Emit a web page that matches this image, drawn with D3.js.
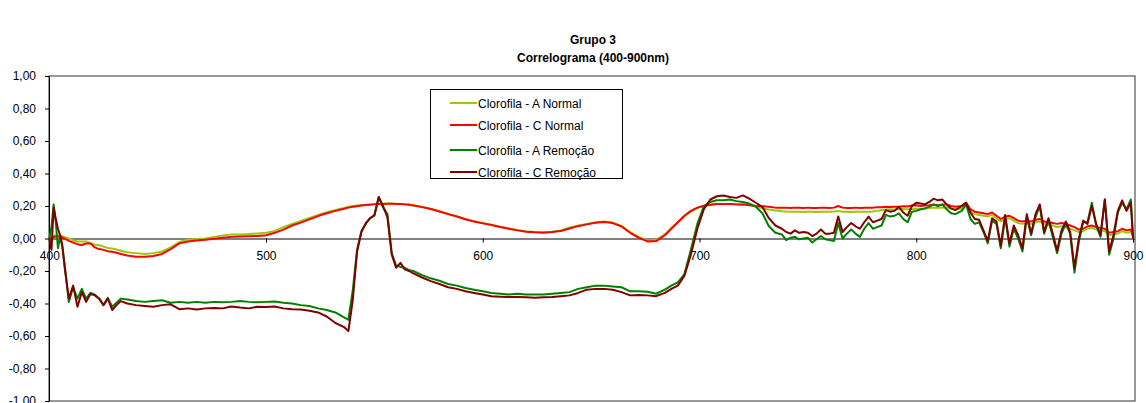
<!DOCTYPE html>
<html>
<head>
<meta charset="utf-8">
<script src="https://cdn.jsdelivr.net/npm/d3@7"></script>
<style>
  body { margin: 0; background: #fff; }
  text { font-family: "Liberation Sans", Arial, sans-serif; }
</style>
</head>
<body>
<script>
const W = 1146, H = 403;

// wavelength (nm) of each sample
const wavelengths = [400,401,402,403,404,405,406,407,409,
  411,413,415,417,419,421,423,425,427,429,431,433,436,
  440,444,448,452,456,460,464,468,472,476,480,484,488,492,496,500,504,508,512,516,520,524,528,532,536,
  538,540,542,544,546,548,550,552,554,556,558,560,562,564,566,568,
  572,576,580,584,588,592,596,600,604,608,612,616,620,624,628,632,636,640,644,648,652,656,660,664,668,672,676,680,684,
  687,690,693,696,699,702,705,708,711,714,717,720,723,726,729,732,735,738,
  740,742,744,746,748,750,752,754,756,758,760,762,764,766,768,770,772,774,776,778,780,782,784,786,788,790,792,794,796,798,800,802,804,806,808,810,812,814,816,818,
  821,823,825,827,829,831,833,835,837,839,841,843,845,847,849,851,853,855,857,859,861,863,865,867,869,871,873,875,877,879,881,883,885,887,889,891,893,895,897,899,900];

const clorofilaANormal = [0.005,0.012,0.018,0.02,0.02,0.018,0.014,0.008,0.0,
  -0.012,-0.018,-0.018,-0.018,-0.028,-0.038,-0.042,-0.05,-0.058,-0.062,-0.068,-0.075,-0.085,
  -0.09,-0.095,-0.09,-0.08,-0.055,-0.022,-0.008,-0.003,0.0,0.01,0.018,0.024,0.025,0.027,0.031,0.036,0.047,0.07,0.09,0.108,0.126,0.145,0.162,0.176,0.188,
  0.195,0.2,0.203,0.206,0.208,0.21,0.212,0.213,0.214,0.215,0.215,0.214,0.213,0.211,0.209,0.205,
  0.195,0.183,0.168,0.152,0.137,0.12,0.106,0.095,0.085,0.073,0.062,0.052,0.044,0.04,0.038,0.042,0.05,0.068,0.08,0.09,0.1,0.105,0.098,0.078,0.04,0.01,-0.012,-0.008,0.025,
  0.065,0.1,0.135,0.165,0.187,0.2,0.207,0.212,0.213,0.212,0.21,0.208,0.207,0.2,0.185,0.178,0.172,0.168,
  0.166,0.165,0.164,0.165,0.163,0.164,0.165,0.163,0.164,0.165,0.164,0.166,0.17,0.165,0.164,0.163,0.165,0.164,0.165,0.164,0.166,0.17,0.175,0.178,0.18,0.179,0.18,0.181,0.18,0.182,0.183,0.18,0.185,0.188,0.19,0.19,0.19,0.192,0.185,0.18,
  0.185,0.205,0.165,0.15,0.145,0.14,0.135,0.145,0.125,0.105,0.12,0.125,0.11,0.095,0.09,0.095,0.09,0.1,0.105,0.09,0.085,0.08,0.07,0.075,0.07,0.06,0.05,0.04,0.045,0.06,0.065,0.055,0.05,0.045,0.02,0.025,0.03,0.045,0.035,0.04,0.015];

const clorofilaCNormal = [0.0,0.004,0.008,0.012,0.012,0.01,0.006,0.0,-0.015,
  -0.025,-0.035,-0.04,-0.03,-0.03,-0.055,-0.065,-0.07,-0.078,-0.082,-0.088,-0.095,-0.105,
  -0.112,-0.113,-0.108,-0.095,-0.065,-0.03,-0.018,-0.012,-0.008,-0.002,0.005,0.01,0.012,0.014,0.016,0.02,0.035,0.055,0.08,0.098,0.118,0.138,0.155,0.17,0.183,
  0.19,0.195,0.199,0.203,0.206,0.208,0.21,0.212,0.213,0.214,0.214,0.213,0.212,0.21,0.207,0.203,
  0.193,0.181,0.166,0.15,0.135,0.118,0.104,0.093,0.083,0.071,0.06,0.05,0.042,0.038,0.036,0.04,0.046,0.062,0.076,0.087,0.097,0.102,0.095,0.074,0.035,0.004,-0.018,-0.016,0.02,
  0.06,0.1,0.14,0.17,0.19,0.202,0.208,0.212,0.213,0.213,0.21,0.21,0.205,0.2,0.198,0.195,0.19,0.19,
  0.19,0.188,0.19,0.189,0.188,0.19,0.187,0.188,0.19,0.189,0.188,0.19,0.2,0.19,0.188,0.187,0.19,0.188,0.189,0.19,0.19,0.192,0.193,0.195,0.194,0.195,0.196,0.198,0.197,0.203,0.205,0.2,0.203,0.205,0.208,0.205,0.207,0.21,0.2,0.195,
  0.2,0.22,0.18,0.165,0.16,0.155,0.15,0.16,0.14,0.12,0.135,0.14,0.125,0.11,0.105,0.11,0.105,0.115,0.12,0.105,0.1,0.095,0.09,0.095,0.09,0.08,0.07,0.055,0.06,0.075,0.08,0.07,0.065,0.06,0.035,0.04,0.045,0.06,0.05,0.055,0.025];

const clorofilaARemocao = [0.0,0.07,0.21,0.1,-0.06,0.01,-0.05,-0.15,-0.39,
  -0.3,-0.37,-0.31,-0.37,-0.335,-0.345,-0.37,-0.41,-0.365,-0.42,-0.395,-0.37,-0.375,
  -0.385,-0.39,-0.385,-0.38,-0.395,-0.39,-0.395,-0.39,-0.395,-0.39,-0.392,-0.39,-0.385,-0.39,-0.393,-0.39,-0.388,-0.395,-0.4,-0.41,-0.415,-0.43,-0.44,-0.455,-0.485,
  -0.5,-0.32,-0.07,0.045,0.09,0.125,0.14,0.255,0.19,0.15,-0.09,-0.165,-0.175,-0.18,-0.195,-0.2,
  -0.225,-0.245,-0.26,-0.28,-0.29,-0.305,-0.315,-0.325,-0.335,-0.34,-0.345,-0.34,-0.345,-0.345,-0.345,-0.34,-0.335,-0.33,-0.31,-0.3,-0.29,-0.29,-0.295,-0.3,-0.325,-0.325,-0.328,-0.34,-0.315,
  -0.29,-0.27,-0.22,-0.07,0.09,0.2,0.225,0.235,0.235,0.24,0.23,0.225,0.215,0.195,0.155,0.075,0.035,0.025,
  -0.01,0.005,0.01,-0.005,0.0,0.005,-0.025,-0.005,0.015,-0.005,-0.01,-0.015,0.095,0.0,0.03,0.055,0.03,0.01,0.06,0.095,0.06,0.07,0.08,0.145,0.135,0.14,0.155,0.12,0.1,0.165,0.17,0.18,0.185,0.195,0.21,0.2,0.21,0.18,0.155,0.15,
  0.17,0.21,0.12,0.09,0.1,0.04,-0.03,0.11,0.09,-0.06,0.13,-0.05,0.06,0.0,-0.08,0.13,0.02,0.13,0.2,0.03,0.11,0.01,-0.09,0.03,0.09,0.03,-0.21,-0.02,0.1,0.1,0.22,0.08,0.01,0.24,-0.1,0.0,0.16,0.22,0.18,0.24,0.01];

const clorofilaCRemocao = [0.0,-0.07,0.19,0.12,0.06,0.02,-0.04,-0.17,-0.37,
  -0.29,-0.42,-0.33,-0.39,-0.34,-0.35,-0.37,-0.41,-0.37,-0.44,-0.41,-0.385,-0.4,
  -0.41,-0.415,-0.42,-0.41,-0.405,-0.435,-0.43,-0.437,-0.43,-0.427,-0.43,-0.418,-0.425,-0.43,-0.42,-0.422,-0.418,-0.43,-0.435,-0.437,-0.445,-0.455,-0.48,-0.52,-0.545,
  -0.57,-0.38,-0.08,0.04,0.095,0.125,0.145,0.255,0.2,0.13,-0.1,-0.18,-0.15,-0.19,-0.2,-0.215,
  -0.24,-0.262,-0.28,-0.3,-0.31,-0.325,-0.335,-0.345,-0.355,-0.358,-0.36,-0.36,-0.362,-0.365,-0.362,-0.36,-0.355,-0.35,-0.335,-0.315,-0.31,-0.31,-0.315,-0.33,-0.35,-0.348,-0.35,-0.355,-0.335,
  -0.31,-0.29,-0.23,-0.1,0.06,0.18,0.24,0.26,0.265,0.255,0.25,0.265,0.245,0.22,0.195,0.125,0.08,0.06,
  0.04,0.03,0.05,0.035,0.04,0.035,0.015,0.03,0.055,0.03,0.03,0.035,0.135,0.04,0.07,0.095,0.075,0.06,0.1,0.135,0.1,0.11,0.12,0.175,0.165,0.17,0.195,0.16,0.14,0.2,0.22,0.215,0.21,0.225,0.245,0.235,0.24,0.21,0.185,0.175,
  0.2,0.22,0.16,0.12,0.115,0.05,-0.015,0.125,0.105,-0.045,0.145,-0.03,0.08,0.02,-0.06,0.15,0.03,0.15,0.21,0.04,0.125,0.03,-0.075,0.05,0.105,0.04,-0.18,0.0,0.11,0.09,0.2,0.09,0.02,0.24,-0.08,0.02,0.17,0.235,0.17,0.22,0.0];

const seriesNames = ["Clorofila - A Normal", "Clorofila - C Normal", "Clorofila - A Remoção", "Clorofila - C Remoção"];
const seriesColors = ["#99cc00", "#ff0000", "#008000", "#800000"];
const seriesValues = [clorofilaANormal, clorofilaCNormal, clorofilaARemocao, clorofilaCRemocao];

const xTicks = [400, 500, 600, 700, 800, 900];
const yTicks = [-1, -0.8, -0.6, -0.4, -0.2, 0, 0.2, 0.4, 0.6, 0.8, 1];

const plot = {left: 49, right: 1135, top: 76, bottom: 401};

var x = d3.scaleLinear().domain([400, 900]).range([49.3, 1133]);
var y = d3.scaleLinear().domain([-1, 1]).range([plot.bottom, plot.top]);

var svg = d3.select("body").append("svg")
    .attr("width", W)
    .attr("height", H);

// title
svg.append("text")
    .attr("x", 593).attr("y", 44)
    .attr("text-anchor", "middle")
    .style("font-size", "12px").style("font-weight", "bold")
    .text("Grupo 3");
svg.append("text")
    .attr("x", 593).attr("y", 62)
    .attr("text-anchor", "middle")
    .style("font-size", "12px").style("font-weight", "bold")
    .text("Correlograma (400-900nm)");

// plot frame
svg.append("rect")
    .attr("x", plot.left).attr("y", plot.top)
    .attr("width", plot.right - plot.left)
    .attr("height", plot.bottom - plot.top)
    .attr("fill", "none")
    .attr("stroke", "#333")
    .attr("stroke-width", 1);

// y axis
var yAxis = d3.axisLeft(y)
    .tickValues(yTicks)
    .tickSize(4)
    .tickSizeOuter(0)
    .tickPadding(9)
    .tickFormat(d => d.toFixed(2).replace(".", ","));

svg.append("g")
    .attr("class", "y axis")
    .attr("transform", "translate(" + plot.left + ",0)")
    .call(yAxis);

// x axis at zero
var xAxis = d3.axisBottom(x)
    .tickValues(xTicks)
    .tickSize(4)
    .tickSizeOuter(0)
    .tickPadding(9)
    .tickFormat(d3.format("d"));

var gx = svg.append("g")
    .attr("class", "x axis")
    .attr("transform", "translate(0," + y(0) + ")")
    .call(xAxis);
gx.select(".domain").attr("d", "M" + plot.left + ",0.5H" + plot.right);

svg.selectAll(".axis text")
    .style("font-size", "12px")
    .style("font-family", "Liberation Sans, Arial, sans-serif")
    .attr("fill", "#000");
svg.selectAll(".axis path, .axis line").attr("stroke", "#000");

// lines
var line = d3.line()
    .x((d, i) => x(wavelengths[i]))
    .y(d => y(d));

svg.append("g")
    .selectAll("path")
    .data(seriesValues)
    .enter().append("path")
    .attr("d", d => line(d))
    .attr("fill", "none")
    .attr("stroke", (d, i) => seriesColors[i])
    .attr("stroke-width", 2)
    .attr("stroke-linejoin", "round");

// legend
var legend = svg.append("g").attr("transform", "translate(430,89)");
legend.append("rect")
    .attr("x", 0.5).attr("y", 0.5)
    .attr("width", 192).attr("height", 89)
    .attr("fill", "#fff")
    .attr("stroke", "#000");

var rows = [14, 36, 61, 83];
var item = legend.selectAll(".item")
    .data(seriesNames)
    .enter().append("g")
    .attr("class", "item")
    .attr("transform", (d, i) => "translate(0," + rows[i] + ")");
item.append("line")
    .attr("x1", 20).attr("x2", 47)
    .attr("y1", 0).attr("y2", 0)
    .attr("stroke", (d, i) => seriesColors[i])
    .attr("stroke-width", 2);
item.append("text")
    .attr("x", 48).attr("y", 4.5)
    .style("font-size", "12px")
    .text(d => d);
</script>
</body>
</html>
